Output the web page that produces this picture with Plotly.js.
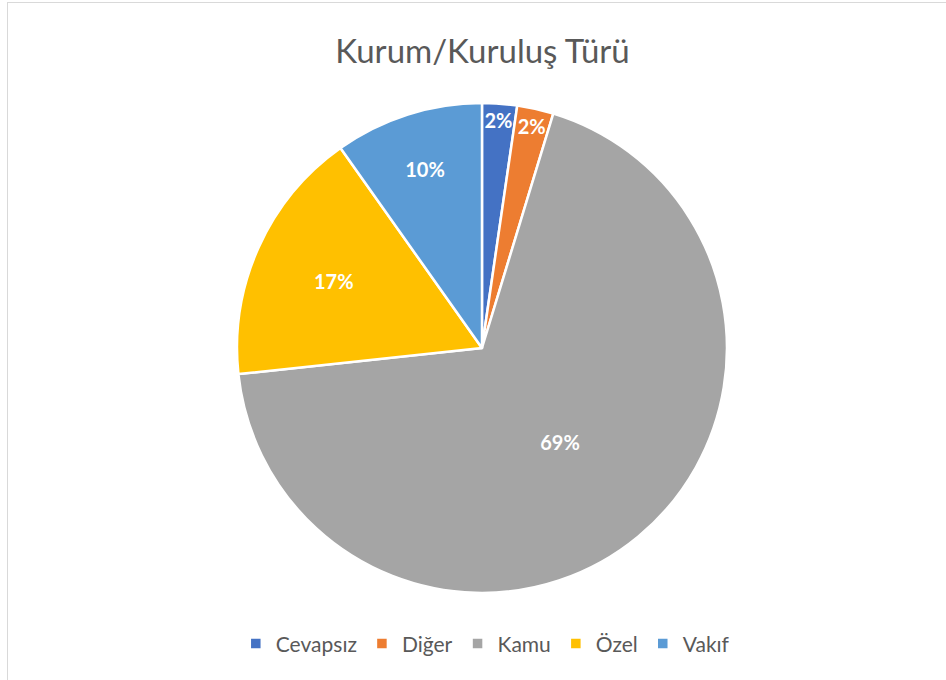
<!DOCTYPE html>
<html>
<head>
<meta charset="utf-8">
<script src="https://cdn.plot.ly/plotly-3.0.1.min.js"></script>
<style>
html,body{margin:0;padding:0;background:#fff;}
#chart{width:946px;height:680px;position:absolute;left:0;top:0;}
#frame{position:absolute;left:7px;top:2px;width:946px;height:690px;border:1px solid #d9d9d9;pointer-events:none;box-sizing:border-box;}
</style>
</head>
<body>
<div id="chart"></div>
<div id="frame"></div>
<script>
const categories = ["Cevapsız", "Diğer", "Kamu", "Özel", "Vakıf"];
const values = [2.3, 2.4, 68.6, 16.9, 9.8];
const colors = ["#4472C4", "#ED7D31", "#A5A5A5", "#FFC000", "#5B9BD5"];
const titleText = "Kurum/Kuruluş Türü";

const trace = {
  type: "pie",
  labels: categories,
  values: values,
  sort: false,
  direction: "clockwise",
  rotation: 0,
  marker: {colors: colors, line: {color: "#ffffff", width: 2.5}},
  texttemplate: "%{percent:.0%}",
  textposition: "inside",
  insidetextorientation: "horizontal",
  insidetextfont: {family: "Lato, 'Open Sans', sans-serif", size: 20, color: "#ffffff", weight: "bold"},
  hoverinfo: "label+percent",
  domain: {x: [0.2505, 0.7685], y: [0.128, 0.8485]}
};

const layout = {
  width: 946, height: 680,
  margin: {l: 0, r: 0, t: 0, b: 0},
  paper_bgcolor: "#ffffff",
  title: {text: titleText, font: {family: "Lato, 'Open Sans', sans-serif", size: 33, color: "#595959"}, x: 0.51, xanchor: "center", y: 0.925, yanchor: "middle"},
  showlegend: true,
  legend: {orientation: "h", x: 0.513, xanchor: "center", y: 0.053, yanchor: "middle", font: {family: "Lato, 'Open Sans', sans-serif", size: 21, color: "#595959"}, traceorder: "normal", itemwidth: 30},
  uniformtext: {mode: "show", minsize: 20}
};

Plotly.newPlot("chart", [trace], layout, {displayModeBar: false, staticPlot: true});
</script>
</body>
</html>
